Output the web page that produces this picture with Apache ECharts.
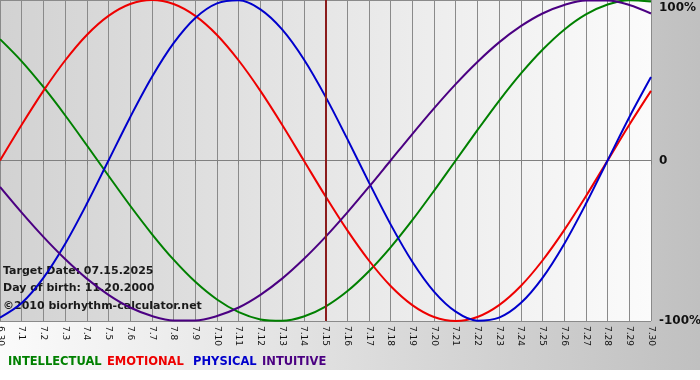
<!DOCTYPE html>
<html><head><meta charset="utf-8">
<script src="https://cdn.jsdelivr.net/npm/echarts@6/dist/echarts.min.js"></script>
<style>html,body{margin:0;padding:0;background:#fff}#c{width:700px;height:380px}</style>
</head><body><div id="c"></div>
<script>
var days = ['6.30','7.1','7.2','7.3','7.4','7.5','7.6','7.7','7.8','7.9','7.10','7.11','7.12','7.13','7.14','7.15','7.16','7.17','7.18','7.19','7.20','7.21','7.22','7.23','7.24','7.25','7.26','7.27','7.28','7.29','7.30'];
var intellectual = [75.6,61.8,45.8,28.2,9.5,-9.5,-28.2,-45.8,-61.8,-75.6,-86.6,-94.5,-99.0,-99.9,-97.2,-91.0,-81.5,-69.0,-54.1,-37.2,-18.9,0,18.9,37.2,54.1,69.0,81.5,91.0,97.2,99.9,99.0];
var emotional = [0,22.3,43.4,62.3,78.2,90.1,97.5,100,97.5,90.1,78.2,62.3,43.4,22.3,0,-22.3,-43.4,-62.3,-78.2,-90.1,-97.5,-100,-97.5,-90.1,-78.2,-62.3,-43.4,-22.3,0,22.3,43.4];
var physical = [-97.9,-88.8,-73.1,-52.0,-27.0,0,27.0,52.0,73.1,88.8,97.9,99.8,94.2,81.7,63.1,39.8,13.6,-13.6,-39.8,-63.1,-81.7,-94.2,-99.8,-97.9,-88.8,-73.1,-52.0,-27.0,0,27.0,52.0];
var intuitive = [-16.5,-32.5,-47.6,-61.4,-73.6,-83.7,-91.6,-96.9,-99.7,-99.7,-96.9,-91.6,-83.7,-73.6,-61.4,-47.6,-32.5,-16.5,0,16.5,32.5,47.6,61.4,73.6,83.7,91.6,96.9,99.7,99.7,96.9,91.6];
var seriesNames = ['INTELLECTUAL','EMOTIONAL','PHYSICAL','INTUITIVE'];
var seriesColors = ['#008000','#ee0000','#0000cc','#4b0082'];
var targetDay = '7.15';
var infoLines = ['Target Date: 07.15.2025','Day of birth: 11.20.2000','\u00a92010 biorhythm-calculator.net'];

var chart = echarts.init(document.getElementById('c'), null, {renderer:'canvas'});
var G = echarts.graphic.LinearGradient;
var values = [intellectual, emotional, physical, intuitive];
var series = values.map(function(v,i){
  return {
    name: seriesNames[i], type:'line', data:v, smooth:0.33, symbol:'none',
    lineStyle:{color:seriesColors[i], width:2}, itemStyle:{color:seriesColors[i]},
    z: 3
  };
});
series[0].markLine = {
  silent:true, symbol:'none', label:{show:false},
  lineStyle:{color:'#8b1c1c', width:2, type:'solid'},
  data:[{xAxis:targetDay}]
};
var legendX = [8,107,193,262];
var graphics = [
  {type:'rect', left:0, top:370, shape:{width:700,height:10}, style:{fill:'#ffffff'}, z:-1}
];
infoLines.forEach(function(t,i){
  graphics.push({type:'text', left:3, top:[266,283,301][i], z:1,
    style:{text:t, fill:'#1a1a1a', font:'bold 11px "DejaVu Sans"'}});
});
seriesNames.forEach(function(n,i){
  graphics.push({type:'text', left:legendX[i], top:356, z:1,
    style:{text:n, fill:seriesColors[i], font:'bold 11.5px "DejaVu Sans"'}});
});

chart.setOption({
  animation:false,
  backgroundColor: new G(0,0,1,0,[{offset:0,color:'#fbfbfb'},{offset:1,color:'#c0c0c0'}]),
  grid:{left:0, right:49, top:0, bottom:59, show:true, borderWidth:0, containLabel:false, outerBoundsMode:'none',
    backgroundColor: new G(0,0,1,0,[{offset:0,color:'#d2d2d2'},{offset:1,color:'#fbfbfb'}])},
  xAxis:{type:'category', data:days, boundaryGap:false,
    axisLine:{show:true, lineStyle:{color:'#808080', width:1}},
    axisTick:{show:true, length:4, interval:0, lineStyle:{color:'#808080'}},
    splitLine:{show:true, interval:0, lineStyle:{color:'#8a8a8a', width:1}},
    axisLabel:{interval:0, rotate:-90, margin:5, color:'#111', fontSize:9, fontFamily:'DejaVu Sans'}
  },
  yAxis:{type:'value', position:'right', min:-100, max:100, interval:100,
    axisLine:{show:false}, axisTick:{show:false},
    splitLine:{show:true, lineStyle:{color:'#8a8a8a', width:1}},
    axisLabel:{margin:8, color:'#111', fontSize:12, fontWeight:'bold', fontFamily:'DejaVu Sans',
      formatter:function(v){return v===100?'{t|100%}':(v===0?'0':v+'%');},
      rich:{t:{fontSize:12, fontWeight:'bold', fontFamily:'DejaVu Sans', color:'#111', padding:[16,0,0,0]}}
    }
  },
  graphic: graphics,
  series: series
});
</script></body></html>
